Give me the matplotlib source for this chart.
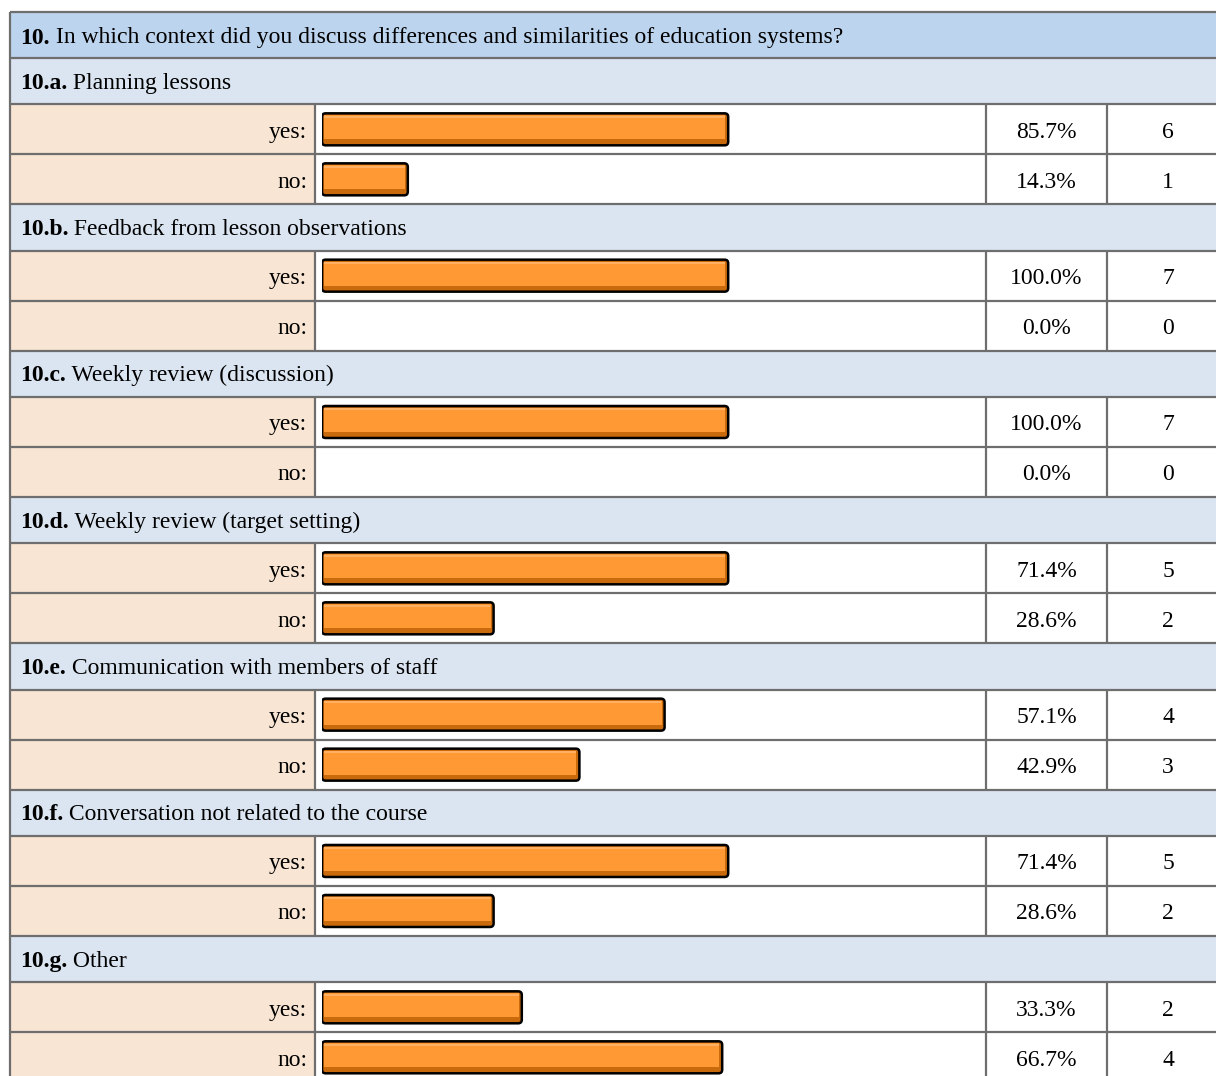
import matplotlib.pyplot as plt
from matplotlib.patches import Rectangle, FancyBboxPatch

# survey results, question 10
QUESTION_NO = "10."
QUESTION = "In which context did you discuss differences and similarities of education systems?"
ITEM_NO = ["10.a.", "10.b.", "10.c.", "10.d.", "10.e.", "10.f.", "10.g."]
ITEMS = ["Planning lessons", "Feedback from lesson observations",
         "Weekly review (discussion)", "Weekly review (target setting)",
         "Communication with members of staff",
         "Conversation not related to the course", "Other"]
ANSWERS = ["yes:", "no:"]
PCT_YES = [85.7, 100.0, 100.0, 71.4, 57.1, 71.4, 33.3]
PCT_NO = [14.3, 0.0, 0.0, 28.6, 42.9, 28.6, 66.7]
N_YES = [6, 7, 7, 5, 4, 5, 2]
N_NO = [1, 0, 0, 2, 3, 2, 4]

# page layout in pixels
W, H = 1216, 1076
LEFT, TOP = 10, 12
HEAD_H, SUB_H, ROW_H = 46, 46.33, 50
COL_BAR, COL_PCT, COL_N, RIGHT = 315, 986, 1107, 1229
BAR_X0 = 322
PX_PER_PCT = 6.0
BAR_CAP = 67.7  # the source page never draws a bar longer than this

HEAD_BG = "#bdd4ee"
SUB_BG = "#dbe5f1"
LABEL_BG = "#f8e5d3"
GRID = "#6e6e6e"
ORANGE = "#ff9933"
ORANGE_DK = "#c96a0c"
ORANGE_LT = "#ffb062"

plt.rcParams["font.family"] = ["Liberation Serif", "DejaVu Serif"]
FS = 17

fig = plt.figure(figsize=(W / 100, H / 100), dpi=100)
ax = fig.add_axes([0, 0, 1, 1])
ax.set_xlim(0, W)
ax.set_ylim(H, 0)
ax.axis("off")

bax = fig.add_axes([BAR_X0 / W, 0, (COL_PCT - BAR_X0) / W, 1], zorder=3)
bax.set_xlim(0, (COL_PCT - BAR_X0) / PX_PER_PCT)
bax.set_ylim(H, 0)
bax.axis("off")
bax.patch.set_alpha(0)


def hline(y):
    ax.plot([LEFT, RIGHT], [y, y], color=GRID, lw=1.6, solid_capstyle="butt", zorder=2)


def vline(x, y0, y1):
    ax.plot([x, x], [y0, y1], color=GRID, lw=1.6, solid_capstyle="butt", zorder=2)


def title_text(y, num, rest):
    t = ax.text(LEFT + 10, y, num, fontsize=FS, fontweight="bold",
                va="baseline", ha="left", zorder=4)
    ax.annotate(" " + rest, xy=(1, 0), xycoords=t, va="bottom", ha="left",
                fontsize=FS, zorder=4)


def draw_bar(yc, pct):
    if pct <= 0:
        return
    w = min(pct, BAR_CAP)
    body = FancyBboxPatch((0, yc - 16), w, 32,
                          boxstyle="round,pad=0,rounding_size=0.6",
                          mutation_aspect=PX_PER_PCT, fc=ORANGE_DK,
                          ec="black", lw=1.8, zorder=3)
    bax.add_patch(body)
    bax.add_patch(Rectangle((0.25, yc - 14), w - 0.75, 24, fc=ORANGE,
                            ec="none", zorder=4))
    bax.add_patch(Rectangle((0.35, yc - 13.5), w - 0.9, 2, fc=ORANGE_LT,
                            ec="none", zorder=4))


# question header
ax.add_patch(Rectangle((LEFT, TOP), RIGHT - LEFT, HEAD_H, fc=HEAD_BG, ec="none"))
title_text(TOP + HEAD_H / 2 + 8.5, QUESTION_NO, QUESTION)
hline(TOP)

y = TOP + HEAD_H
for i in range(len(ITEMS)):
    hline(y)
    ax.add_patch(Rectangle((LEFT, y), RIGHT - LEFT, SUB_H, fc=SUB_BG, ec="none"))
    title_text(y + SUB_H / 2 + 7.5, ITEM_NO[i], ITEMS[i])
    y += SUB_H
    rows = [(ANSWERS[0], PCT_YES[i], N_YES[i]), (ANSWERS[1], PCT_NO[i], N_NO[i])]
    for label, pct, n in rows:
        hline(y)
        ax.add_patch(Rectangle((LEFT, y), COL_BAR - LEFT, ROW_H, fc=LABEL_BG, ec="none"))
        yc = y + ROW_H / 2
        ax.text(COL_BAR - 8, yc + 8.5, label, fontsize=FS, ha="right", va="baseline")
        ax.text((COL_PCT + COL_N) / 2, yc + 8.5, f"{pct:.1f}%", fontsize=FS,
                ha="center", va="baseline")
        ax.text((COL_N + RIGHT) / 2, yc + 8.5, str(n), fontsize=FS,
                ha="center", va="baseline")
        draw_bar(yc, pct)
        for x in (COL_BAR, COL_PCT, COL_N):
            vline(x, y, y + ROW_H)
        y += ROW_H
hline(y)
vline(LEFT, TOP, y)

fig.savefig("out.png", dpi=100)
